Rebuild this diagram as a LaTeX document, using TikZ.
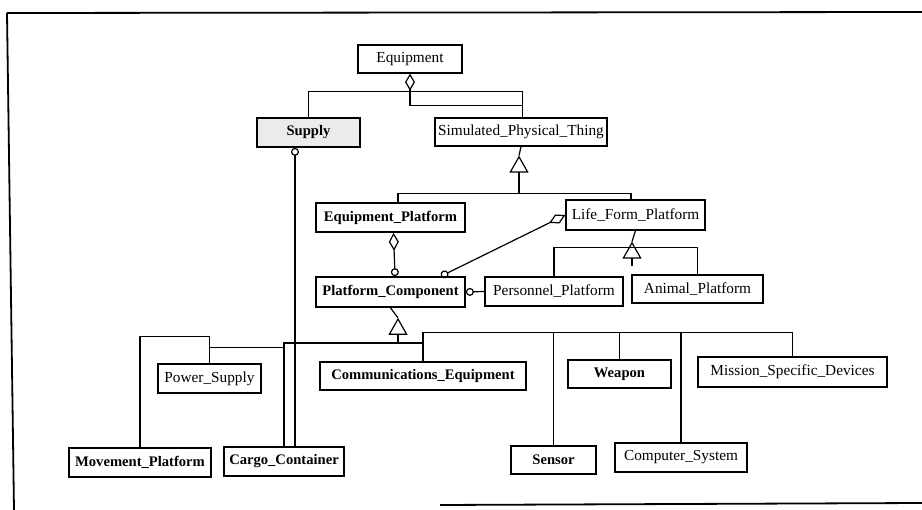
\documentclass[tikz,border=0pt]{standalone}
\usepackage{fontspec}
\setmainfont{Liberation Serif}
\usetikzlibrary{arrows.meta}

\begin{document}
\begin{tikzpicture}
[x=1pt, y=-1pt,
every node/.style={font=\fontsize{15.3}{17}\selectfont},
cls/.style={draw, line width=1.2pt, minimum height=29pt, inner sep=0pt},
boldcls/.style={cls, line width=1.7pt, font=\fontsize{14.6}{17}\selectfont\bfseries},
conn/.style={line width=1.2pt},
aggr/.style={conn, {Diamond[open,length=17pt,width=10pt]}-},
aggruse/.style={conn, {Diamond[open,length=18pt,width=10pt]}-{Circle[open,length=8pt]}},
uses/.style={conn, {Circle[open,length=8pt]}-},
inh/.style={conn, -{Triangle[open,length=17pt,width=19pt]}},
frame/.style={line width=1.8pt}
]
\useasboundingbox (0,0) rectangle (922,510);
\draw[frame] (7,13) -- (922,12);
\draw[frame] (7,13) -- (14,510);
\draw[frame] (440,505) -- (922,503);

\node[cls, minimum width=104pt, minimum height=28pt] (equipment) at (410,59) {Equipment};
\node[boldcls, minimum width=103pt, fill=black!8] (supply) at (308.5,132.5) {Supply};
\node[cls, minimum width=172pt, minimum height=28pt] (spt) at (521,132) {Simulated\_Physical\_Thing};
\node[boldcls, minimum width=149pt] (ep) at (390.5,217.5) {Equipment\_Platform};
\node[cls, minimum width=139pt, minimum height=30pt] (lfp) at (635.5,215) {Life\_Form\_Platform};
\node[boldcls, minimum width=149pt, minimum height=30pt] (pc) at (390.5,292) {Platform\_Component};
\node[cls, minimum width=138pt] (pers) at (554,291.5) {Personnel\_Platform};
\node[cls, minimum width=131pt, minimum height=28pt] (animal) at (697.5,289) {Animal\_Platform};
\node[cls, minimum width=103pt] (power) at (209.5,378.5) {Power\_Supply};
\node[boldcls, minimum width=206pt, minimum height=28pt] (comm) at (423,376) {Communications\_Equipment};
\node[boldcls, minimum width=103pt, minimum height=28pt] (weapon) at (619.5,374) {Weapon};
\node[cls, minimum width=189pt, minimum height=30pt] (mission) at (792.5,372) {Mission\_Specific\_Devices};
\node[boldcls, minimum width=142pt] (movement) at (140,462.5) {Movement\_Platform};
\node[boldcls, minimum width=120pt] (cargo) at (284,461.5) {Cargo\_Container};
\node[boldcls, minimum width=85pt, minimum height=28pt] (sensor) at (553.5,460) {Sensor};
\node[cls, minimum width=132pt] (computer) at (681,457.5) {Computer\_System};

\draw[aggr] (equipment.south) -- ++(0,18) -| (supply.north);
\draw[conn] (equipment.south) ++(0,18) -| ([xshift=1.5pt]spt.north);
\draw[conn] (equipment.south) ++(0,18) -- ++(0,14) -| ([xshift=1.5pt]spt.north);
\draw[uses] ([xshift=-13.5pt]supply.south) -- ([xshift=11pt]cargo.north);

\coordinate (spttip) at ([xshift=-2pt,yshift=-9pt]spt.south);
\draw[conn] (spt.south) -- (spttip);
\draw[inh] ([xshift=7.5pt]ep.north) |- ([yshift=-38pt]spttip) -- (spttip);
\draw[conn] ([xshift=-4.5pt]lfp.north) |- ([yshift=-38pt]spttip);

\draw[aggruse] ([xshift=3pt]ep.south) -- ([xshift=4.5pt]pc.north);
\draw[aggruse] (lfp.west) -- ([xshift=50.5pt]pc.north);
\draw[uses] (pc.east) -- (pers.west);

\coordinate (lfptip) at ([xshift=-3.5pt,yshift=-11pt]lfp.south);
\draw[conn] (lfp.south) -- (lfptip);
\draw[inh] ([yshift=-24pt]lfptip) -- (lfptip);
\draw[conn] (pers.north) -- ++(0,-29) -| (animal.north);

\coordinate (pctip) at ([xshift=7.5pt,yshift=-10pt]pc.south);
\draw[conn] (pc.south) -- (pctip);
\draw[inh] ([yshift=-26pt]pctip) -- (pctip);
\coordinate (lbus) at (283,343);
\coordinate (rbus) at (423,333);
\draw[conn] (lbus) -- (lbus -| comm.north);
\draw[conn] (comm.north) -- ++(0,-29) -| (mission.north);
\draw[conn] (sensor.north) -- (sensor.north |- rbus);
\draw[conn] (weapon.north) -- (weapon.north |- rbus);
\draw[conn] (computer.north) -- (computer.north |- rbus);
\draw[conn] (cargo.north) -- (cargo.north |- lbus);
\draw[conn] (power.north) -- ++(0,-27) -| (movement.north);
\coordinate (pstap) at ([yshift=16pt]power.north);
\draw[conn] (pstap) -- (pstap -| cargo.north);
\end{tikzpicture}
\end{document}
